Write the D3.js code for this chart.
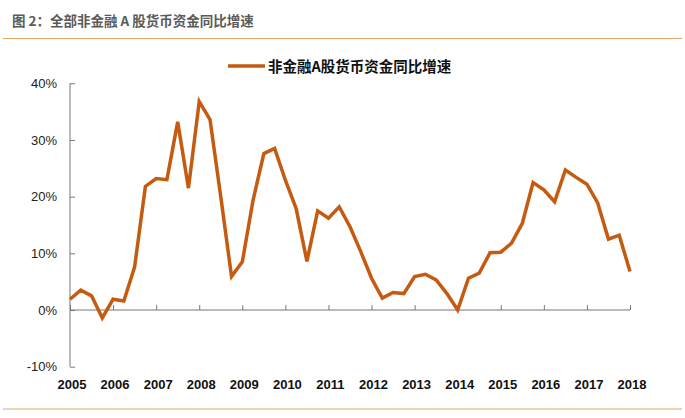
<!DOCTYPE html>
<html><head><meta charset="utf-8">
<script src="https://cdn.jsdelivr.net/npm/d3@7/dist/d3.min.js"></script>
<style>body{margin:0;background:#fff}svg{display:block}</style>
</head><body>
<svg id="c" width="685" height="418"></svg>
<script>
const title = "图 2：全部非金融 A 股货币资金同比增速";
const seriesName = "非金融A股货币资金同比增速";
const years = ["2005","2006","2007","2008","2009","2010","2011","2012","2013","2014","2015","2016","2017","2018"];
const yTicks = [-10, 0, 10, 20, 30, 40];
// quarterly, 2005Q1 .. 2018Q1
const values = [1.9,3.5,2.5,-1.4,1.9,1.6,7.6,21.8,23.2,23.0,33.2,21.5,36.8,33.6,20.0,5.9,
  8.5,19.4,27.6,28.5,22.9,17.9,8.6,17.5,16.2,18.2,14.7,10.3,5.6,2.1,3.1,2.9,5.9,6.3,5.3,2.9,
  0.0,5.6,6.5,10.1,10.2,11.8,15.3,22.5,21.2,19.1,24.7,23.4,22.2,18.9,12.5,13.2,6.8];

const svg = d3.select("#c");
const cjk = "'Noto Sans CJK SC', sans-serif";
const lat = "'Liberation Sans', Arial, sans-serif";

svg.append("text").attr("x",12).attr("y",26).text(title)
  .attr("font-family",cjk).attr("font-size",13.5).attr("font-weight","bold").attr("fill","#5a5a5a");
svg.append("line").attr("x1",3).attr("x2",682).attr("y1",38.5).attr("y2",38.5).attr("stroke","#e3a867").attr("stroke-width",1);
svg.append("line").attr("x1",3).attr("x2",682).attr("y1",409).attr("y2",409).attr("stroke","#e3a867").attr("stroke-width",1);

const x = d3.scaleLinear().domain([0, 52]).range([70, 630]);
const y = d3.scaleLinear().domain([-10, 40]).range([366.7, 83.3]);

// legend
svg.append("line").attr("x1",228).attr("x2",265).attr("y1",66).attr("y2",66).attr("stroke","#c55a11").attr("stroke-width",3.5);
svg.append("text").attr("x",268).attr("y",71.5).text(seriesName)
  .attr("font-family",cjk).attr("font-size",14.5).attr("font-weight","bold").attr("fill","#111");

// y axis
const ya = svg.append("g").attr("transform","translate(70,0)")
  .call(d3.axisRight(y).tickValues(yTicks).tickSize(5).tickFormat(d=>d+"%"));
ya.select(".domain").attr("stroke","#777").attr("d","M0,"+y(-10)+"V"+y(40));
ya.selectAll(".tick line").attr("stroke","#777");
ya.selectAll(".tick text").attr("x",-13).attr("text-anchor","end")
  .attr("font-family",lat).attr("font-size",13).attr("fill","#222");

// x axis at 0
const xa = svg.append("g").attr("transform","translate(0,"+y(0)+")")
  .call(d3.axisTop(x).tickValues(d3.range(0,53,4)).tickSize(5).tickFormat(""));
xa.select(".domain").attr("stroke","#777").attr("d","M70,0H630");
xa.selectAll(".tick line").attr("stroke","#777");

// x labels
svg.append("g").selectAll("text").data(years).join("text")
  .attr("x",(d,i)=>x(i*4)+2).attr("y",389).attr("text-anchor","middle").text(d=>d)
  .attr("font-family",lat).attr("font-size",13).attr("font-weight","bold").attr("fill","#111");

// line
svg.append("path").datum(values)
  .attr("d", d3.line().x((d,i)=>x(i)).y(d=>y(d)))
  .attr("fill","none").attr("stroke","#c55a11").attr("stroke-width",3.5).attr("stroke-linejoin","miter");
</script>
</body></html>
